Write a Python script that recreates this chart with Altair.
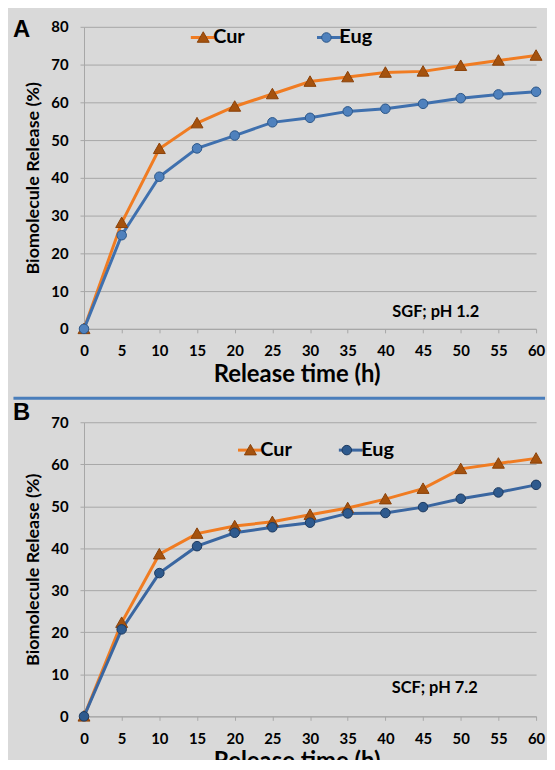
import altair as alt
import pandas as pd

# ---- data ----
hours = [0, 5, 10, 15, 20, 25, 30, 35, 40, 45, 50, 55, 60]
series = ["Cur", "Eug"]
cur_sgf = [0, 28.1, 47.7, 54.5, 58.9, 62.2, 65.5, 66.7, 67.9, 68.2, 69.7, 71.1, 72.4]
eug_sgf = [0, 24.8, 40.3, 47.8, 51.2, 54.7, 55.9, 57.6, 58.3, 59.6, 61.1, 62.1, 62.8]
cur_scf = [0, 22.3, 38.6, 43.5, 45.3, 46.3, 48.0, 49.6, 51.7, 54.2, 58.9, 60.2, 61.4]
eug_scf = [0, 20.7, 34.1, 40.5, 43.7, 45.0, 46.1, 48.3, 48.4, 49.8, 51.8, 53.3, 55.1]
x_ticks = [0, 5, 10, 15, 20, 25, 30, 35, 40, 45, 50, 55, 60]

FONT = "Lato"
GRID = "#A6A6A6"
TRI = "M-0.5,0.4L0,-0.48L0.5,0.4Z"
CIRC = "M0.4,0A0.4,0.4 0 1,1 -0.4,0A0.4,0.4 0 1,1 0.4,0Z"
W = 455


def panel(cur, eug, ymax, height, letter, letter_y, note, note_x, note_y,
          line_cols, fill_cols, stroke_cols, leg, rule_y=None):
    lx, px, ly, cp, cpp = leg
    df = pd.DataFrame({
        "t": hours + hours,
        "v": cur + eug,
        "s": ["Cur"] * len(hours) + ["Eug"] * len(hours),
    })
    base = alt.Chart(df)
    x = alt.X("t:Q", scale=alt.Scale(domain=[0, 60], nice=False),
              axis=alt.Axis(values=x_ticks, grid=False, title="Release time (h)",
                            titleX=214, titleY=46, titleBaseline="middle",
                            titleAlign="center", labelPadding=11, labelOverlap=False,
                            labelFlush=False))
    y = alt.Y("v:Q", scale=alt.Scale(domain=[0, ymax], nice=False),
              axis=alt.Axis(values=list(range(0, ymax + 1, 10)), grid=True,
                            title="Biomolecule Release (%)", titleX=-51,
                            titleY=height / 2, titleAngle=270, titleAlign="center",
                            titleBaseline="middle", labelPadding=12, labelOverlap=False))
    common_leg = dict(orient="none", direction="horizontal", title=None,
                      symbolSize=576, labelFont=FONT, labelFontSize=20,
                      labelFontWeight="bold", labelColor="black", padding=0)
    lines = base.mark_line(strokeWidth=3).encode(
        x=x, y=y,
        color=alt.Color("s:N", scale=alt.Scale(range=line_cols),
                        legend=alt.Legend(symbolType="stroke", symbolStrokeWidth=3,
                                          legendX=lx, legendY=ly,
                                          labelOffset={"expr": "-3"},
                                          columnPadding=cp, zindex=1, **common_leg)),
    )
    pleg = alt.Legend(symbolStrokeWidth=1, labelExpr="''", legendX=px,
                      legendY=ly + 1, labelOffset=0, columnPadding=cpp,
                      zindex=2, **common_leg)
    pts = base.transform_calculate(p="datum.s").mark_point(
        filled=True, size=576, strokeWidth=1, opacity=1
    ).encode(
        x=x, y=y,
        fill=alt.Fill("p:N", scale=alt.Scale(domain=series, range=fill_cols), legend=pleg),
        stroke=alt.Stroke("p:N", scale=alt.Scale(domain=series, range=stroke_cols), legend=pleg),
        shape=alt.Shape("p:N", scale=alt.Scale(domain=series, range=[TRI, CIRC]), legend=pleg),
    )
    one = alt.Chart(pd.DataFrame({"letter": [letter], "note": [note]}))
    letter_txt = one.mark_text(font="Liberation Sans", fontSize=24, fontWeight="bold",
                               align="left", baseline="alphabetic", color="black").encode(
        text="letter:N", x=alt.value(-71.5), y=alt.value(letter_y))
    note_txt = one.mark_text(font=FONT, fontSize=16.5, fontWeight="bold",
                             align="center", baseline="middle", color="black").encode(
        text="note:N", x=alt.value(note_x), y=alt.value(note_y))
    layers = [lines, pts, letter_txt, note_txt]
    if rule_y is not None:
        rule = one.mark_rule(color="#4A7EBB", strokeWidth=3).encode(
            x=alt.value(-71), x2=alt.value(464), y=alt.value(rule_y))
        layers.append(rule)
    return alt.layer(*layers).properties(width=W, height=height)


panel_a = panel(cur_sgf, eug_sgf, 80, 304, "A", 10.3, "SGF; pH 1.2", 354, 287,
                ["#F07C22", "#3F70AE"], ["#A5520E", "#4F81BD"], ["#8A4209", "#2C5788"],
                (106, 107.5, -3, 66, 99), rule_y=373.8)
panel_b = panel(cur_scf, eug_scf, 70, 296, "B", -2, "SCF; pH 7.2", 353, 267.7,
                ["#F07C22", "#3A66A0"], ["#A5520E", "#2E5A8E"], ["#8A4209", "#1E3A5F"],
                (153.5, 155, 14.3, 40.5, 72))

chart = alt.vconcat(panel_a, panel_b, spacing=94, bounds="flush").resolve_scale(
    color="independent", fill="independent", stroke="independent", shape="independent",
    x="independent", y="independent"
).properties(
    padding={"left": 3.5, "top": 7.5, "right": 0, "bottom": -17},
    background="#D9D9D9",
).configure_view(stroke=None).configure_axis(
    labelFont=FONT, labelFontSize=15, labelFontWeight="bold", labelColor="black",
    titleFont=FONT, titleFontWeight="bold", titleColor="black",
    domainColor=GRID, tickColor=GRID, gridColor=GRID, tickSize=4,
    domainWidth=1, gridWidth=1, tickWidth=1,
).configure_axisX(titleFontSize=24).configure_axisY(titleFontSize=18)

chart.save("out.html", embed_options={"renderer": "svg", "actions": False})
